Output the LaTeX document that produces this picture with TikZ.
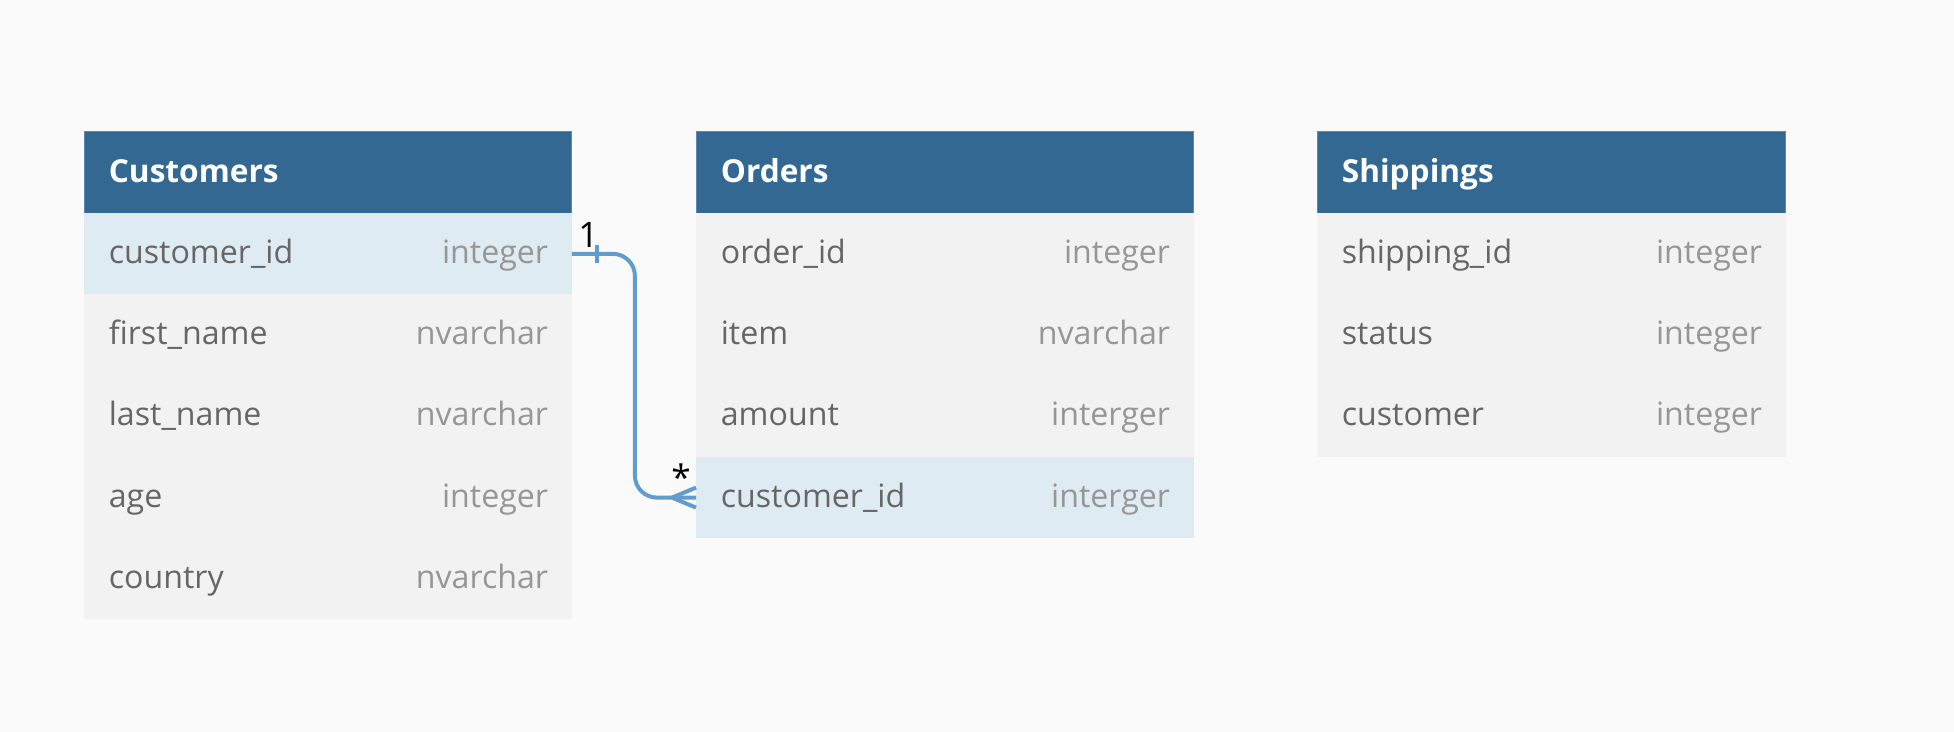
\documentclass[tikz,border=0pt]{standalone}
\usepackage{fontspec}
\setmainfont{Open Sans}
\usetikzlibrary{calc,positioning}
\definecolor{hdblue}{RGB}{51,104,147}
\definecolor{hdedge}{RGB}{92,137,175}
\definecolor{rowgray}{RGB}{242,242,242}
\definecolor{rowblue}{RGB}{223,235,243}
\definecolor{bggray}{RGB}{250,250,250}
\definecolor{fieldgray}{RGB}{102,102,102}
\definecolor{typegray}{RGB}{150,150,150}
\definecolor{linkblue}{RGB}{98,156,205}

\tikzset{
  hdr/.style={fill=hdblue, draw=hdedge, line width=0.02cm, minimum height=1.625cm, inner sep=0pt, outer sep=0pt, anchor=north west},
  fld/.style={minimum height=1.625cm, inner sep=0pt, outer sep=0pt, anchor=north west},
  htext/.style={text=white, font=\bfseries\fontsize{18}{20}\selectfont, anchor=base west, inner sep=0pt},
  fname/.style={text=fieldgray, font=\fontsize{18.3}{20}\selectfont, anchor=base west, inner sep=0pt},
  ftype/.style={text=typegray, font=\fontsize{18.3}{20}\selectfont, anchor=base east, inner sep=0pt},
  card/.style={text=black, font=\fontsize{20}{22}\selectfont, anchor=base west, inner sep=0pt},
  link/.style={draw=linkblue, line width=0.08cm}
}

\begin{document}
\begin{tikzpicture}[x=0.02cm,y=-0.02cm]
%%%%% background %%%%%
\fill[bggray] (0,0) rectangle (1954,732);

%%%%% Customers %%%%%
\node[hdr, minimum width=9.76cm] (cust) at (84,132) {};
\node[htext] (cust-title) at ([xshift=0.49cm,yshift=0.62cm]cust.south west) {Customers};
\foreach \f/\t/\c [count=\i] in {customer\_id/integer/rowblue, first\_name/nvarchar/rowgray,
    last\_name/nvarchar/rowgray, age/integer/rowgray, country/nvarchar/rowgray}{
  \node[fld, minimum width=9.76cm, fill=\c] (cust-\i) at (84,{132+81.25*\i}) {};
  \node[fname] (cust-\i-f) at ([xshift=0.49cm,yshift=0.62cm]cust-\i.south west) {\f};
  \node[ftype] (cust-\i-t) at ([xshift=-0.47cm,yshift=0.62cm]cust-\i.south east) {\t};
}

%%%%% Orders %%%%%
\node[hdr, minimum width=9.96cm] (ord) at (696,132) {};
\node[htext] (ord-title) at ([xshift=0.49cm,yshift=0.62cm]ord.south west) {Orders};
\foreach \f/\t/\c [count=\i] in {order\_id/integer/rowgray, item/nvarchar/rowgray,
    amount/interger/rowgray, customer\_id/interger/rowblue}{
  \node[fld, minimum width=9.96cm, fill=\c] (ord-\i) at (696,{132+81.25*\i}) {};
  \node[fname] (ord-\i-f) at ([xshift=0.49cm,yshift=0.62cm]ord-\i.south west) {\f};
  \node[ftype] (ord-\i-t) at ([xshift=-0.47cm,yshift=0.62cm]ord-\i.south east) {\t};
}

%%%%% Shippings %%%%%
\node[hdr, minimum width=9.38cm] (ship) at (1317,132) {};
\node[htext] (ship-title) at ([xshift=0.49cm,yshift=0.62cm]ship.south west) {Shippings};
\foreach \f/\t/\c [count=\i] in {shipping\_id/integer/rowgray, status/integer/rowgray,
    customer/integer/rowgray}{
  \node[fld, minimum width=9.38cm, fill=\c] (ship-\i) at (1317,{132+81.25*\i}) {};
  \node[fname] (ship-\i-f) at ([xshift=0.49cm,yshift=0.62cm]ship-\i.south west) {\f};
  \node[ftype] (ship-\i-t) at ([xshift=-0.47cm,yshift=0.62cm]ship-\i.south east) {\t};
}

%%%%% relation customer_id 1 -- * customer_id %%%%%
\draw[link, rounded corners=0.44cm] (cust-1.east) -- ([xshift=1.26cm]cust-1.east) |- (ord-4.west);
\draw[link] ([xshift=0.5cm,yshift=0.18cm]cust-1.east) -- ([xshift=0.5cm,yshift=-0.18cm]cust-1.east);
\draw[link] ([xshift=-0.48cm]ord-4.west) -- ([yshift=0.2cm]ord-4.west);
\draw[link] ([xshift=-0.48cm]ord-4.west) -- ([yshift=-0.2cm]ord-4.west);
\node[card] (one) at ([xshift=0.12cm,yshift=0.13cm]cust-1.east) {1};
\node[card] (many) at ([xshift=-0.5cm,yshift=0.15cm]ord-4.west) {*};
\end{tikzpicture}
\end{document}
